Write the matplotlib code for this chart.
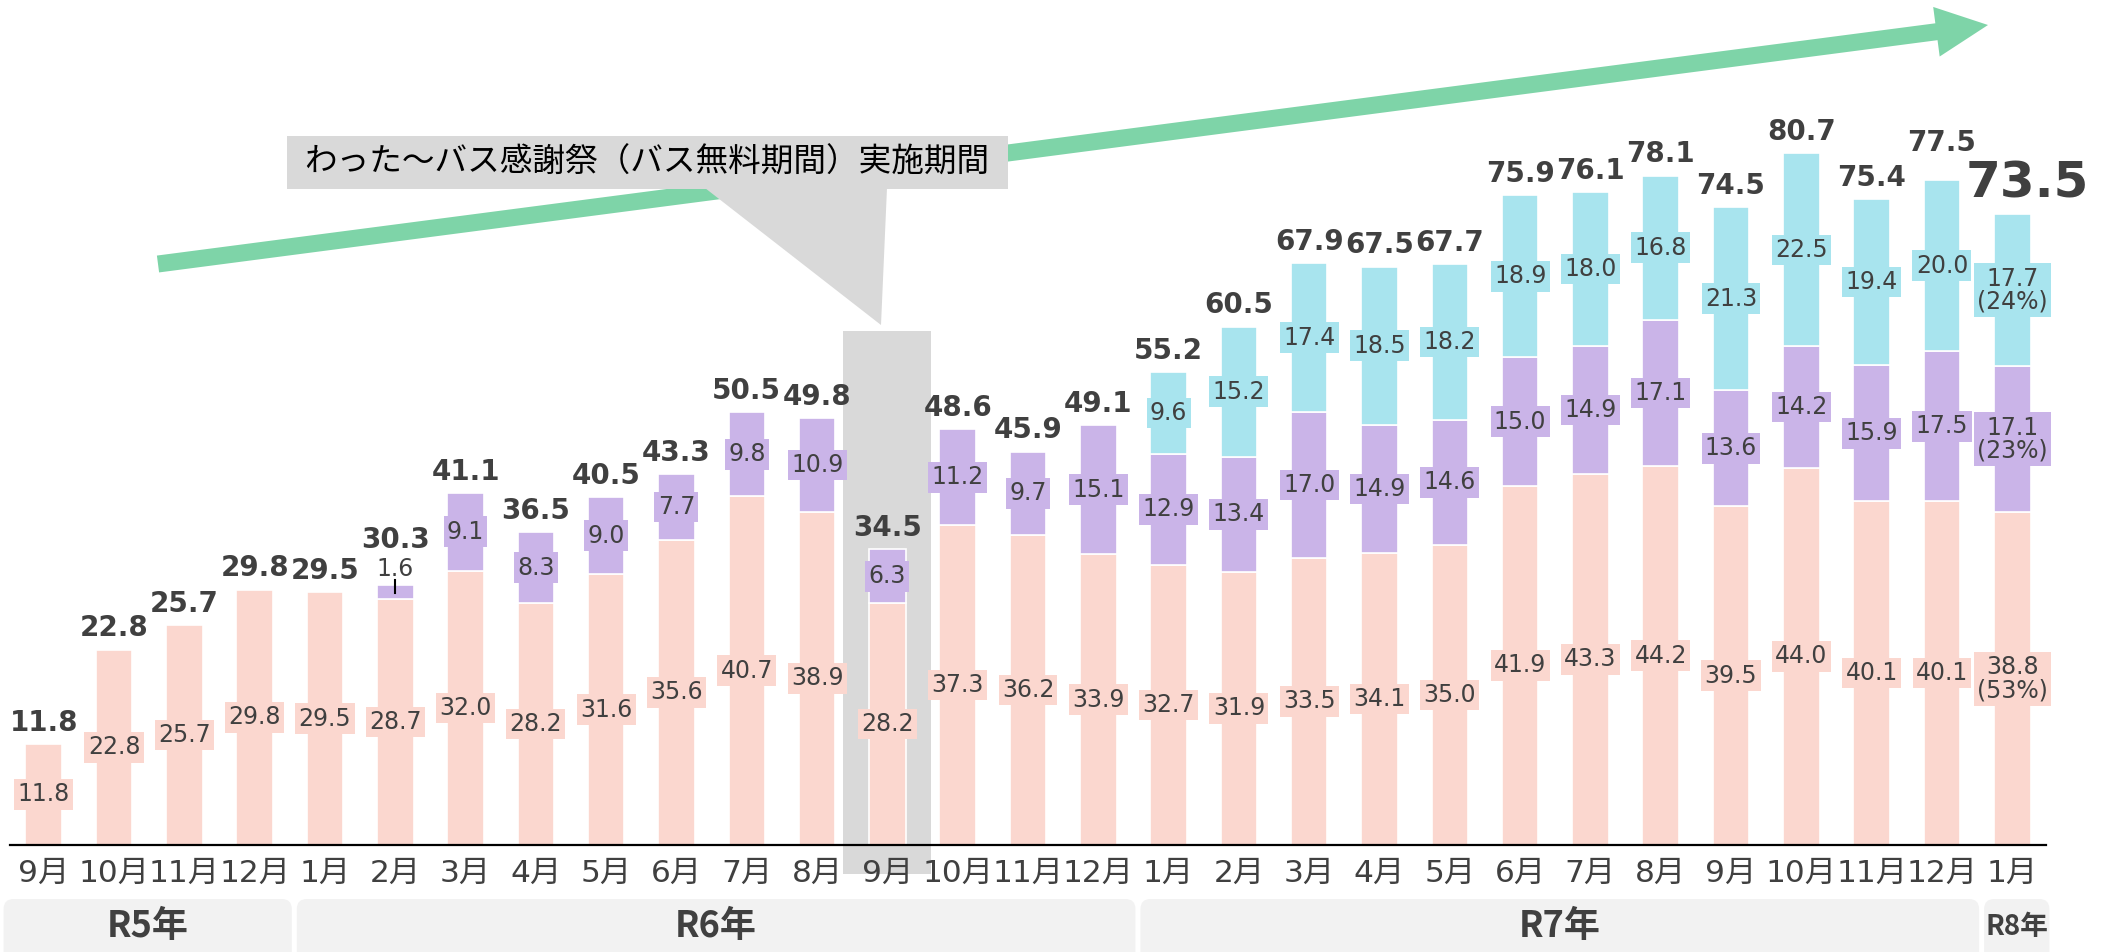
import matplotlib
matplotlib.use('Agg')
import matplotlib.pyplot as plt
from matplotlib.patches import Rectangle, Polygon, FancyBboxPatch, FancyArrow

plt.rcParams['font.family'] = ['DejaVu Sans', 'Noto Sans CJK JP']

# ---------------- data ----------------
months = ['9月', '10月', '11月', '12月',
          '1月', '2月', '3月', '4月', '5月', '6月', '7月', '8月', '9月', '10月', '11月', '12月',
          '1月', '2月', '3月', '4月', '5月', '6月', '7月', '8月', '9月', '10月', '11月', '12月',
          '1月']
pink = [11.8, 22.8, 25.7, 29.8,
        29.5, 28.7, 32.0, 28.2, 31.6, 35.6, 40.7, 38.9, 28.2, 37.3, 36.2, 33.9,
        32.7, 31.9, 33.5, 34.1, 35.0, 41.9, 43.3, 44.2, 39.5, 44.0, 40.1, 40.1,
        38.8]
purple = [0, 0, 0, 0,
          0, 1.6, 9.1, 8.3, 9.0, 7.7, 9.8, 10.9, 6.3, 11.2, 9.7, 15.1,
          12.9, 13.4, 17.0, 14.9, 14.6, 15.0, 14.9, 17.1, 13.6, 14.2, 15.9, 17.5,
          17.1]
cyan = [0, 0, 0, 0,
        0, 0, 0, 0, 0, 0, 0, 0, 0, 0, 0, 0,
        9.6, 15.2, 17.4, 18.5, 18.2, 18.9, 18.0, 16.8, 21.3, 22.5, 19.4, 20.0,
        17.7]
totals = ['11.8', '22.8', '25.7', '29.8',
          '29.5', '30.3', '41.1', '36.5', '40.5', '43.3', '50.5', '49.8', '34.5', '48.6', '45.9', '49.1',
          '55.2', '60.5', '67.9', '67.5', '67.7', '75.9', '76.1', '78.1', '74.5', '80.7', '75.4', '77.5',
          '73.5']
last_shares = ['53%', '23%', '24%']  # pink, purple, cyan for the last month
years = ['R5年', 'R6年', 'R7年', 'R8年']
year_sizes = [4, 12, 12, 1]
highlight_idx = 12
callout_text = 'わった〜バス感謝祭（バス無料期間）実施期間'

# ---------------- style ----------------
TXT = '#404040'
PINK = '#FBD7CF'
PURPLE = '#CAB4E8'
CYAN = '#A8E4EE'
GREEN = '#7ED4A8'
GRAY = '#D9D9D9'
LIGHT = '#F2F2F2'
W, H = 2105, 952

fig = plt.figure(figsize=(W / 100, H / 100), dpi=100)
ax = fig.add_axes([10 / W, 107 / H, 2036 / W, 845 / H])
n = len(months)
x = list(range(n))
ax.set_xlim(-0.48, n - 1 + 0.48)
ax.set_ylim(0, 98.6)
ax.patch.set_visible(False)
for s in ['top', 'right', 'left']:
    ax.spines[s].set_visible(False)
ax.spines['bottom'].set_linewidth(1.6)
ax.spines['bottom'].set_color('black')
ax.set_yticks([])
ax.set_xticks(x)
ax.set_xticklabels(months, fontsize=22.5, color=TXT)
ax.tick_params(axis='x', length=0, pad=10)

# highlight band behind highlighted month
ax.add_patch(Rectangle((highlight_idx - 0.626, -3.38), 1.252, 63.36, fc=GRAY, ec='none',
                       zorder=0.5, clip_on=False))

bw = 0.52
series = [(pink, PINK), (purple, PURPLE), (cyan, CYAN)]
bottoms = [0.0] * n
for k, (vals, col) in enumerate(series):
    idx = [i for i in x if vals[i] > 0]
    ax.bar(idx, [vals[i] for i in idx], bottom=[bottoms[i] for i in idx], width=bw,
           color=col, edgecolor='white', linewidth=1.2, zorder=2)
    for i in idx:
        v = vals[i]
        top = bottoms[i] + v
        if v < 3:
            ax.annotate(f'{v:.1f}', (i, top), xytext=(0, 12), textcoords='offset points',
                        ha='center', va='center', fontsize=17, color=TXT, zorder=5)
            ax.plot([i, i], [top - 0.93, top + 0.58], color='black', lw=1.5, zorder=5)
        else:
            txt = f'{v:.1f}'
            if i == n - 1:
                txt += f'\n({last_shares[k]})'
            ax.text(i, bottoms[i] + v / 2, txt, ha='center', va='center', fontsize=17,
                    color=TXT, linespacing=0.95, zorder=4,
                    bbox=dict(boxstyle='square,pad=0.14', fc=col, ec='none'))
    for i in x:
        bottoms[i] += vals[i]

# totals
for i in x:
    top = bottoms[i]
    if i == n - 1:
        ax.annotate(totals[i], (i, top), xytext=(11, 12), textcoords='offset points',
                    ha='center', va='baseline', fontsize=36, fontweight='bold', color=TXT)
        continue
    if purple[i] > 0 and purple[i] < 3:
        dy = 27          # leave room for the small-segment label
    elif i == n - 2:
        dy = 21          # lifted clear of the large final label
    else:
        dy = 9.5
    ax.annotate(totals[i], (i, top), xytext=(0, dy), textcoords='offset points',
                ha='center', va='baseline', fontsize=20, fontweight='bold', color=TXT)

# ---------------- overlay in pixel coordinates ----------------
ov = fig.add_axes([0, 0, 1, 1])
ov.set_xlim(0, W)
ov.set_ylim(H, 0)
ov.axis('off')
ov.set_zorder(ax.get_zorder() + 1)

# trend arrow
ov.add_patch(FancyArrow(158, 264, 1830, -239, width=17, head_width=50, head_length=52,
                        length_includes_head=True, fc=GREEN, ec='none', zorder=1))
# callout
ov.add_patch(Polygon([(705, 188), (887, 188), (881, 325)], closed=True, fc=GRAY, ec='none', zorder=2))
ov.add_patch(Rectangle((287, 136), 721, 53, fc=GRAY, ec='none', zorder=2))
ov.text(647, 163, callout_text, fontsize=23.5, family='Noto Sans CJK JP', color='black',
        ha='center', va='center', zorder=3)

# year group boxes
start = 0
for k, (lab, sz) in enumerate(zip(years, year_sizes)):
    end = start + sz - 1
    xl = ax.transData.transform((start - 0.5, 0))[0]
    xr = ax.transData.transform((end + 0.5, 0))[0]
    xl = xl - 5 if k == 0 else xl + 7
    xr = xr + 2
    ov.add_patch(FancyBboxPatch((xl, 899), xr - xl, 80,
                                boxstyle='round,pad=0,rounding_size=10',
                                fc=LIGHT, ec='none', zorder=1))
    ov.text((xl + xr) / 2, 927, lab, fontsize=26 if sz > 1 else 20, fontweight='bold',
            family='Noto Sans CJK JP', color=TXT, ha='center', va='center', zorder=2)
    start = end + 1

fig.savefig('out.png', dpi=100)
